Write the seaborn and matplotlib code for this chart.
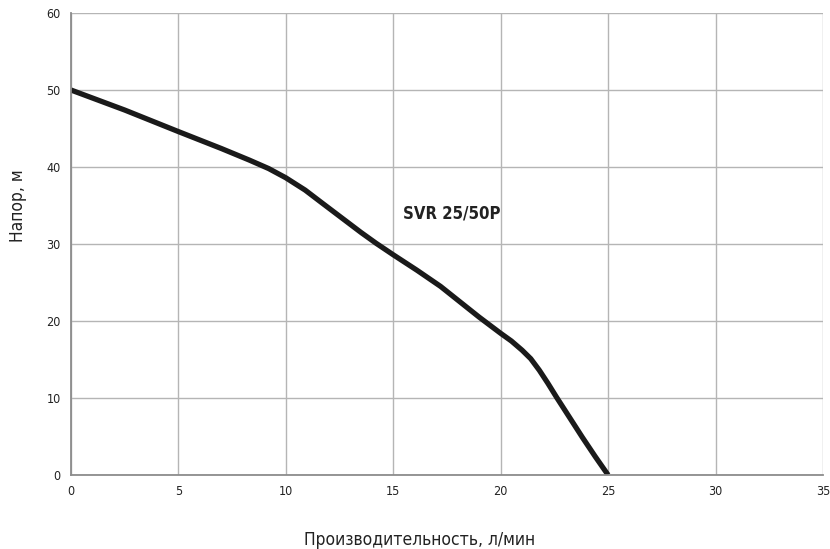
import matplotlib.pyplot as plt
import pandas as pd
import seaborn as sns

# Read Data
flow = [0, 2.5, 5, 7, 8.3, 9.2, 10, 10.9, 11.7, 12.6, 13.5, 14.2, 15, 16.1, 17.2, 18.1, 19, 20, 20.5, 21, 21.4, 21.8, 22.2, 22.6, 23.2, 23.8, 24.4, 25]
head = [50, 47.4, 44.6, 42.4, 40.9, 39.8, 38.6, 37.0, 35.3, 33.4, 31.5, 30.1, 28.6, 26.6, 24.5, 22.5, 20.5, 18.4, 17.4, 16.2, 15.1, 13.6, 11.9, 10.1, 7.5, 4.9, 2.4, 0]
x_ticks = [0, 5, 10, 15, 20, 25, 30, 35]
y_ticks = [0, 10, 20, 30, 40, 50, 60]
curve_label = "SVR 25/50P"

df = pd.DataFrame({"flow": flow, "head": head})

sns.set_style("white")
plt.rcParams['font.family'] = ['DejaVu Sans']
plt.rcParams['font.stretch'] = 'condensed'

fig = plt.figure(figsize=(8.3, 5.49), dpi=100)
ax = fig.add_axes([0.0855, 0.1348, 0.906, 0.8415])

sns.lineplot(data=df, x="flow", y="head", color="#1a1a1a", linewidth=3.8,
             solid_capstyle="butt", solid_joinstyle="round", ax=ax)

ax.set_xlim(0, 35)
ax.set_ylim(0, 60)
ax.set_xticks(x_ticks)
ax.set_yticks(y_ticks)
ax.grid(True, color="#b5b5b5", linewidth=1.0)
ax.set_axisbelow(True)
for side in ["top", "right"]:
    ax.spines[side].set_visible(False)
for side in ["left", "bottom"]:
    ax.spines[side].set_color("#8c8c8c")
    ax.spines[side].set_linewidth(1.3)
ax.tick_params(axis="both", length=4, color="#8c8c8c", labelsize=9, labelcolor="#222222")

ax.text(15.45, 34, curve_label, fontsize=12, fontweight="bold", color="#222222",
        ha="left", va="center")

ax.set_xlabel("Производительность, л/мин", fontsize=12.5, color="#222222")
ax.set_ylabel("Напор, м", fontsize=12.5, color="#222222")
ax.xaxis.set_label_coords(0.464, -0.122)
ax.yaxis.set_label_coords(-0.059, 0.582)

plt.savefig("out.png", dpi=100)
